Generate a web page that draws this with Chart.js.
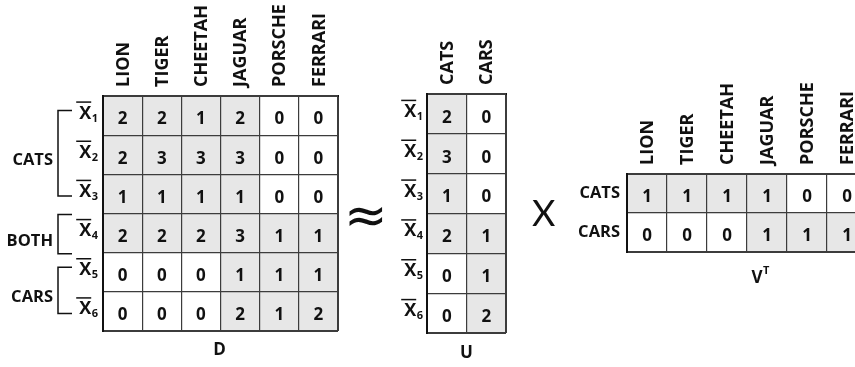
<!DOCTYPE html>
<html>
<head>
<meta charset="utf-8">
<script src="https://cdn.jsdelivr.net/npm/chart.js@4.4.1/dist/chart.umd.min.js"></script>
<style>
  html, body { margin: 0; padding: 0; background: #fff; width: 855px; height: 367px; overflow: hidden; }
  canvas { position: absolute; }
  .sym { position: absolute; color: #111; white-space: nowrap; }
</style>
</head>
<body>
<canvas id="matD" width="345" height="367" style="left:0;top:0"></canvas>
<canvas id="matU" width="140" height="367" style="left:380px;top:0"></canvas>
<canvas id="matV" width="360" height="250" style="left:520px;top:60px"></canvas>
<div class="sym" style="left:344px;top:188px;font:52px 'DejaVu Sans';line-height:54px">≈</div>
<div class="sym" style="left:532px;top:194px;font:36px Lato;line-height:36px">X</div>
<script>
"use strict";
// columns (words) and rows (documents / topics)
const words = ['LION', 'TIGER', 'CHEETAH', 'JAGUAR', 'PORSCHE', 'FERRARI'];
const docs = ['X1', 'X2', 'X3', 'X4', 'X5', 'X6'];
const topics = ['CATS', 'CARS'];

// D: documents x words
const D = [
  [2, 2, 1, 2, 0, 0],
  [2, 3, 3, 3, 0, 0],
  [1, 1, 1, 1, 0, 0],
  [2, 2, 2, 3, 1, 1],
  [0, 0, 0, 1, 1, 1],
  [0, 0, 0, 2, 1, 2]
];
// U: documents x topics
const U = [
  [2, 0],
  [3, 0],
  [1, 0],
  [2, 1],
  [0, 1],
  [0, 2]
];
// V transposed: topics x words
const VT = [
  [1, 1, 1, 1, 0, 0],
  [0, 0, 0, 1, 1, 1]
];

// document groups shown with brackets left of D
const groupNames = ['CATS', 'BOTH', 'CARS'];
const groupFirst = [0, 3, 4];
const groupLast = [2, 3, 5];

const INK = '#111111';
const SHADE = '#e7e7e7';
const GRID = '#3c3c3c';
const FONT = "'Open Sans'";
const HEAD_SIZE = 18;

function edgeWidth(ctx) {
  // outer lines a bit heavier than the inner ones
  return (ctx.index === undefined || ctx.index === 0) ? 2 : 1.2;
}

function makePlugin(cfg) {
  return {
    id: 'matrixText',
    afterDatasetsDraw(chart) {
      const ctx = chart.ctx;
      ctx.save();
      ctx.font = 'bold 17px ' + FONT;
      ctx.fillStyle = INK;
      ctx.textAlign = 'center';
      ctx.textBaseline = 'middle';
      chart.data.datasets.forEach((ds, i) => {
        chart.getDatasetMeta(i).data.forEach((bar, j) => {
          const p = bar.getCenterPoint();
          ctx.fillText(String(ds.cellValues[j]), p.x, p.y + 4);
        });
      });
      ctx.restore();
    },
    afterDraw(chart) {
      const ctx = chart.ctx;
      const area = chart.chartArea;
      const rs = chart.scales.rows;
      const n = rs.getLabels().length;
      const rowH = (area.bottom - area.top) / n;
      ctx.save();
      ctx.fillStyle = INK;
      ctx.strokeStyle = INK;

      // row labels: X with an overline and a subscript
      if (cfg.docLabels) {
        rs.getLabels().forEach((lab, i) => {
          const cy = rs.getPixelForTick(i);
          const base = lab.slice(0, 1);
          const sub = lab.slice(1);
          ctx.font = 'bold 11px ' + FONT;
          const sw = ctx.measureText(sub).width;
          ctx.font = 'bold 18px ' + FONT;
          const xw = ctx.measureText(base).width;
          const subX = area.left - cfg.labelGap - sw;
          const xX = subX - xw - 0.5;
          ctx.textAlign = 'left';
          ctx.textBaseline = 'alphabetic';
          ctx.fillText(base, xX, cy + 3);
          ctx.font = 'bold 11px ' + FONT;
          ctx.fillText(sub, subX, cy + 6);
          ctx.lineWidth = 1.5;
          ctx.beginPath();
          ctx.moveTo(xX - 3, cy - 13.5);
          ctx.lineTo(xX + xw, cy - 13.5);
          ctx.stroke();
        });
      }

      // group brackets
      if (cfg.groups) {
        const bx = area.left - 45;
        const hx = area.left - 31;
        groupNames.forEach((name, g) => {
          const c0 = rs.getPixelForTick(groupFirst[g]);
          const c1 = rs.getPixelForTick(groupLast[g]);
          let top, bot;
          if (groupFirst[g] === groupLast[g]) {
            top = c0 - rowH / 2 + 1;
            bot = c0 + rowH / 2 + 1;
          } else {
            top = c0 - 5;
            bot = c1 + 2;
          }
          ctx.lineWidth = 1.5;
          ctx.beginPath();
          ctx.moveTo(hx, top);
          ctx.lineTo(bx, top);
          ctx.lineTo(bx, bot);
          ctx.lineTo(hx, bot);
          ctx.stroke();
          ctx.font = 'bold 16.5px ' + FONT;
          ctx.textAlign = 'right';
          ctx.textBaseline = 'middle';
          ctx.fillText(name, bx - 5, (top + bot) / 2 + 7);
        });
      }

      // matrix name under the grid
      const tx = (area.left + area.right) / 2 + cfg.titleDx;
      const ty = area.bottom + cfg.titleDy;
      ctx.font = 'bold 17px ' + FONT;
      ctx.textBaseline = 'middle';
      if (cfg.titleSup) {
        const w = ctx.measureText(cfg.title).width;
        ctx.textAlign = 'left';
        ctx.fillText(cfg.title, tx - w / 2, ty);
        ctx.font = 'bold 11px ' + FONT;
        ctx.fillText(cfg.titleSup, tx + w / 2 + 0.5, ty - 7);
      } else {
        ctx.textAlign = 'center';
        ctx.fillText(cfg.title, tx, ty);
      }
      ctx.restore();
    }
  };
}

function matrixChart(id, cols, rows, values, cfg) {
  const datasets = values.map((row, r) => ({
    data: row.map(() => [r, r + 1]),
    cellValues: row,
    backgroundColor: row.map(v => v > 0 ? SHADE : '#ffffff'),
    borderWidth: 0,
    barPercentage: 1,
    categoryPercentage: 1,
    grouped: false,
    yAxisID: 'y'
  }));
  const tickFont = { family: FONT, weight: 'bold', size: HEAD_SIZE, lineHeight: 1.2 };
  return new Chart(document.getElementById(id), {
    type: 'bar',
    data: { labels: cols, datasets: datasets },
    options: {
      responsive: false,
      animation: false,
      events: [],
      layout: { padding: { top: 0, left: 0, right: cfg.padRight, bottom: cfg.padBottom } },
      plugins: { legend: { display: false }, tooltip: { enabled: false } },
      scales: {
        x: {
          type: 'category',
          position: 'top',
          offset: true,
          grid: { offset: true, color: GRID, lineWidth: edgeWidth, drawTicks: false, z: 1 },
          border: { color: INK, width: 2, z: 1 },
          ticks: {
            minRotation: 90, maxRotation: 90, padding: 9, color: INK, font: tickFont, autoSkip: false,
            // rotated top labels are pushed one line left by the library; bring them back over the column
            labelOffset: HEAD_SIZE * 1.2 + 1
          },
          afterFit: s => { s.height = cfg.top; }
        },
        y: { type: 'linear', min: 0, max: rows.length, reverse: true, display: false },
        rows: {
          type: 'category',
          axis: 'y',
          position: 'left',
          labels: rows,
          offset: true,
          grid: { offset: true, color: GRID, lineWidth: edgeWidth, drawTicks: false, z: 1 },
          border: { color: INK, width: 2, z: 1 },
          ticks: { display: !cfg.docLabels, padding: 7, color: INK, font: { family: FONT, weight: 'bold', size: 16.5 } },
          afterFit: s => { s.width = cfg.left; }
        }
      }
    },
    plugins: [makePlugin(cfg)]
  });
}

matrixChart('matD', words, docs, D, {
  top: 96, left: 103, padRight: 7, padBottom: 36,
  docLabels: true, labelGap: 5, groups: true,
  title: 'D', titleDx: -1, titleDy: 19
});
matrixChart('matU', topics, docs, U, {
  top: 94, left: 47, padRight: 14, padBottom: 34,
  docLabels: true, labelGap: 4, groups: false,
  title: 'U', titleDx: 0, titleDy: 20
});
matrixChart('matV', words, topics, VT, {
  top: 114, left: 107, padRight: 13, padBottom: 58,
  docLabels: false, groups: false,
  title: 'V', titleSup: 'T', titleDx: 10, titleDy: 26
});
</script>
</body>
</html>
